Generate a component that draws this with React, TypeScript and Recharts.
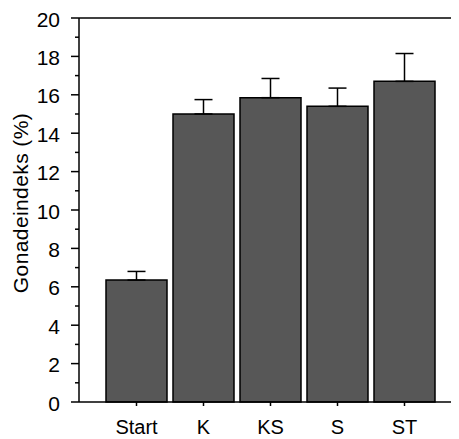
import React from 'react';
import { BarChart, Bar, XAxis, YAxis, ErrorBar, ReferenceLine } from 'recharts';

// Gonadeindeks per behandling
const categories = ['Start', 'K', 'KS', 'S', 'ST'];
const means = [6.35, 15.0, 15.85, 15.4, 16.7];
const errors = [0.45, 0.75, 1.0, 0.95, 1.45];
const yTicks = [0, 1, 2, 3, 4, 5, 6, 7, 8, 9, 10, 11, 12, 13, 14, 15, 16, 17, 18, 19, 20];

const data = categories.map((name, i) => ({
  name,
  value: means[i],
  err: [0, errors[i]],
}));

const FONT = '"Liberation Sans", Arial, sans-serif';
const Y_TICK_SIZE = 8;
const Y_TICK_MARGIN = 11;

const YTick = (props: any) => {
  const { x, y, payload } = props;
  const axisX = x + Y_TICK_SIZE + Y_TICK_MARGIN;
  const major = payload.value % 2 === 0;
  return (
    <g>
      <line x1={axisX - (major ? 8 : 4)} x2={axisX} y1={y} y2={y} stroke="#000" strokeWidth={1.5} />
      {major && (
        <text x={x} y={y} dy={8.5} textAnchor="end" fontSize={21} fontFamily={FONT} fill="#000">
          {payload.value}
        </text>
      )}
    </g>
  );
};

const YLabel = (props: any) => {
  const { x, y, height } = props.viewBox;
  const cx = x + 20;
  const cy = y + height / 2 - 7;
  return (
    <text
      x={cx}
      y={cy}
      transform={`rotate(-90 ${cx} ${cy})`}
      textAnchor="middle"
      fontSize={21}
      letterSpacing={0.4}
      fontFamily={FONT}
      fill="#000"
    >
      Gonadeindeks (%)
    </text>
  );
};

export default function App() {
  return (
    <BarChart
      width={451}
      height={431}
      data={data}
      margin={{ top: 10, right: 0, left: 0, bottom: 0 }}
      barCategoryGap={3}
    >
      <XAxis
        dataKey="name"
        height={37}
        padding={{ left: 24, right: 21 }}
        axisLine={{ stroke: '#000', strokeWidth: 1.5 }}
        tickLine={{ stroke: '#000', strokeWidth: 1.5 }}
        tickSize={4}
        tickMargin={14}
        tick={{ fontSize: 20, fontFamily: FONT, fill: '#000' }}
      />
      <YAxis
        type="number"
        domain={[0, 20]}
        ticks={yTicks}
        interval={0}
        width={71}
        axisLine={{ stroke: '#000', strokeWidth: 1.5 }}
        tickLine={false}
        tickSize={Y_TICK_SIZE}
        tickMargin={Y_TICK_MARGIN}
        tick={<YTick />}
        label={<YLabel />}
      />
      <ReferenceLine y={20} stroke="#000" strokeWidth={1.5} />
      <Bar dataKey="value" fill="#575757" stroke="#000" strokeWidth={1.5} isAnimationActive={false}>
        <ErrorBar dataKey="err" direction="y" width={9} stroke="#000" strokeWidth={1.5} isAnimationActive={false} />
      </Bar>
    </BarChart>
  );
}
